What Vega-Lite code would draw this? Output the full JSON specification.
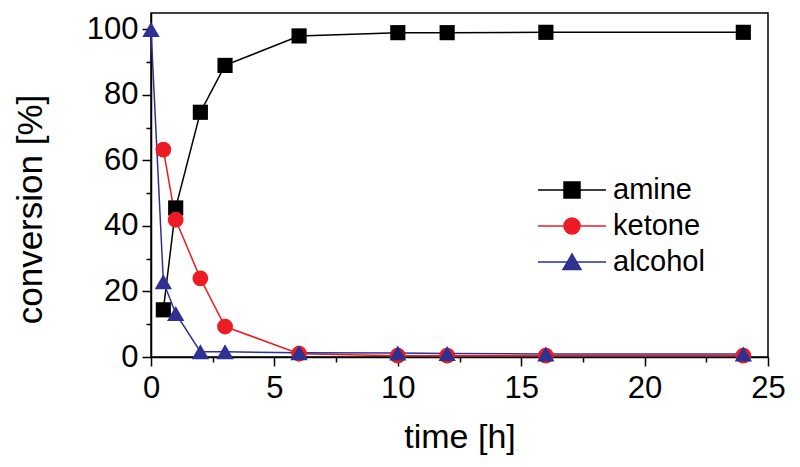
{
  "$schema": "https://vega.github.io/schema/vega-lite/v6.json",
  "width": 617,
  "height": 344,
  "autosize": {"type": "none"},
  "padding": {"left": 151, "top": 13, "right": 32, "bottom": 110},
  "background": "white",
  "config": {
    "font": "Liberation Sans",
    "view": {"stroke": "black", "strokeWidth": 1.5},
    "axis": {
      "grid": false,
      "domainColor": "black",
      "domainWidth": 1.5,
      "tickColor": "black",
      "tickWidth": 1.5,
      "labelColor": "black",
      "labelFont": "Liberation Sans",
      "labelFontSize": 31,
      "titleFont": "Liberation Sans",
      "titleFontSize": 34,
      "titleFontWeight": "normal",
      "titleColor": "black",
      "labelOverlap": false,
      "labelFlush": false
    }
  },
  "data": {
    "values": [
      {"t": 0.5, "conversion": 14.4, "series": "amine"},
      {"t": 1, "conversion": 45.5, "series": "amine"},
      {"t": 2, "conversion": 74.7, "series": "amine"},
      {"t": 3, "conversion": 89.0, "series": "amine"},
      {"t": 6, "conversion": 98.0, "series": "amine"},
      {"t": 10, "conversion": 99.0, "series": "amine"},
      {"t": 12, "conversion": 99.0, "series": "amine"},
      {"t": 16, "conversion": 99.1, "series": "amine"},
      {"t": 24, "conversion": 99.1, "series": "amine"},
      {"t": 0.5, "conversion": 63.3, "series": "ketone"},
      {"t": 1, "conversion": 41.9, "series": "ketone"},
      {"t": 2, "conversion": 24.0, "series": "ketone"},
      {"t": 3, "conversion": 9.3, "series": "ketone"},
      {"t": 6, "conversion": 1.0, "series": "ketone"},
      {"t": 10, "conversion": 0.4, "series": "ketone"},
      {"t": 12, "conversion": 0.4, "series": "ketone"},
      {"t": 16, "conversion": 0.4, "series": "ketone"},
      {"t": 24, "conversion": 0.4, "series": "ketone"},
      {"t": 0, "conversion": 100, "series": "alcohol"},
      {"t": 0.5, "conversion": 23.0, "series": "alcohol"},
      {"t": 1, "conversion": 13.3, "series": "alcohol"},
      {"t": 2, "conversion": 1.6, "series": "alcohol"},
      {"t": 3, "conversion": 1.6, "series": "alcohol"},
      {"t": 6, "conversion": 1.3, "series": "alcohol"},
      {"t": 10, "conversion": 1.2, "series": "alcohol"},
      {"t": 12, "conversion": 1.1, "series": "alcohol"},
      {"t": 16, "conversion": 0.9, "series": "alcohol"},
      {"t": 24, "conversion": 0.9, "series": "alcohol"}
    ]
  },
  "encoding": {
    "x": {
      "field": "t",
      "type": "quantitative",
      "scale": {"domain": [0, 25], "nice": false, "zero": false},
      "axis": {
        "title": "time [h]",
        "values": [0, 2.5, 5, 7.5, 10, 12.5, 15, 17.5, 20, 22.5, 25],
        "labelExpr": "datum.value % 5 === 0 ? datum.label : ''",
        "tickSize": {"condition": {"test": "datum.value % 5 === 0", "value": 9}, "value": 5},
        "labelPadding": 7,
        "titlePadding": 17
      }
    },
    "y": {
      "field": "conversion",
      "type": "quantitative",
      "scale": {"domain": [0, 105], "nice": false},
      "axis": {
        "title": "conversion [%]",
        "values": [0, 10, 20, 30, 40, 50, 60, 70, 80, 90, 100],
        "labelExpr": "datum.value % 20 === 0 ? datum.label : ''",
        "tickSize": {"condition": {"test": "datum.value % 20 === 0", "value": 9}, "value": 5},
        "labelPadding": 4,
        "titleFontSize": 35,
        "titlePadding": 38,
        "titleY": 196
      }
    },
    "color": {
      "field": "series",
      "type": "nominal",
      "scale": {"domain": ["amine", "ketone", "alcohol"], "range": ["#000000", "#ed1c24", "#2e3192"]},
      "legend": {
        "title": null,
        "orient": "none",
        "legendX": 400,
        "legendY": 156,
        "labelFontSize": 29,
        "labelFont": "Liberation Sans",
        "labelColor": "black",
        "labelOffset": 20,
        "symbolSize": 1600,
        "symbolStrokeWidth": 1.5,
        "rowPadding": 0,
        "encode": {
          "symbols": {
            "update": {
              "shape": {"signal": "datum.value === 'amine' ? 'M-1.7,0H1.7M-0.4,-0.4H0.4V0.4H-0.4Z' : datum.value === 'ketone' ? 'M-1.7,0H1.7M0.4,0A0.4,0.4,0,1,1,-0.4,0A0.4,0.4,0,1,1,0.4,0Z' : 'M-1.7,0H1.7M0,-0.4L0.45,0.37H-0.45Z'"},
              "size": {"value": 1600},
              "fill": {"scale": "color", "field": "value"},
              "stroke": {"scale": "color", "field": "value"},
              "strokeWidth": {"value": 1.5},
              "opacity": {"value": 1},
              "fillOpacity": {"value": 1}
            }
          }
        }
      }
    }
  },
  "layer": [
    {"mark": {"type": "line", "strokeWidth": 1.5}},
    {
      "transform": [{"filter": "datum.series === 'amine'"}],
      "mark": {"type": "point", "filled": true, "opacity": 1, "shape": "square", "size": 230}
    },
    {
      "transform": [{"filter": "datum.series === 'ketone'"}],
      "mark": {"type": "point", "filled": true, "opacity": 1, "shape": "circle", "size": 250}
    },
    {
      "transform": [{"filter": "datum.series === 'alcohol'"}],
      "mark": {"type": "point", "filled": true, "opacity": 1, "shape": "triangle-up", "size": 300}
    }
  ]
}
